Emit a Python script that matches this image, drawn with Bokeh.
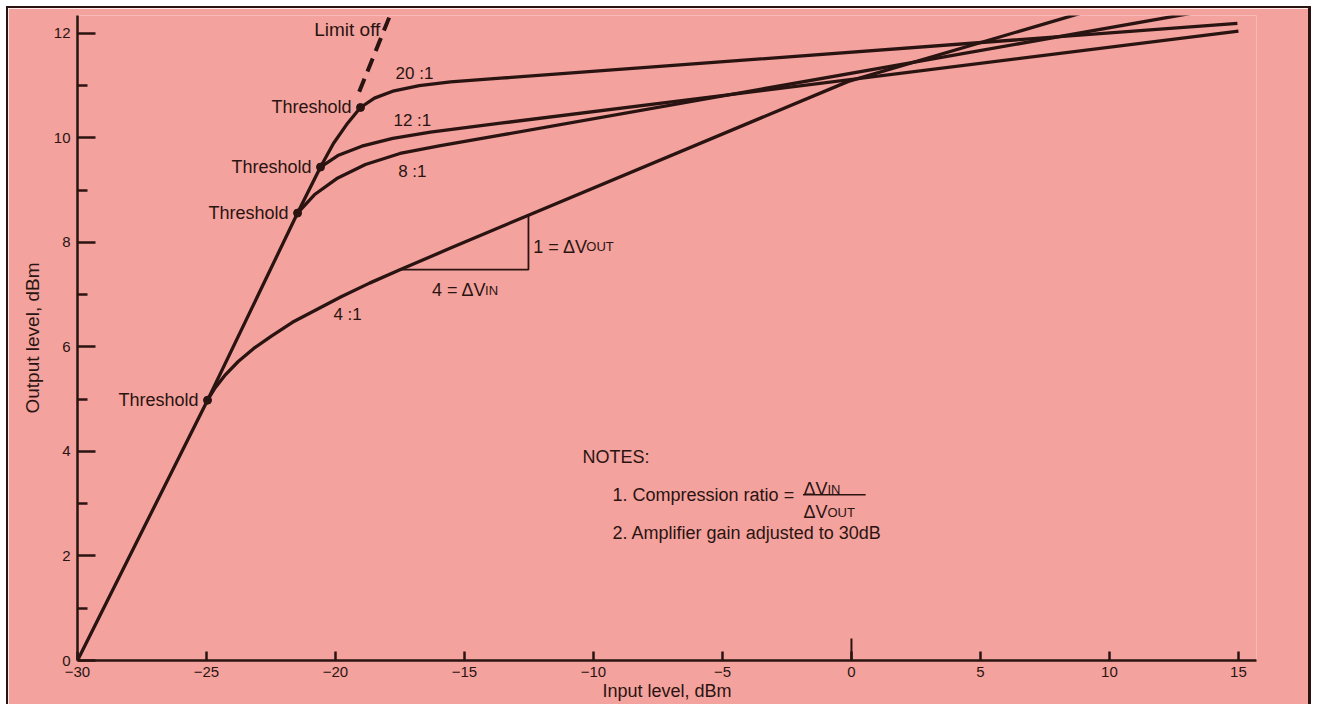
from bokeh.plotting import figure
from bokeh.models import Range1d, FixedTicker, Label, ColumnDataSource
from bokeh.core.properties import value
from bokeh.embed import file_html
from bokeh.resources import INLINE

# ---------------- data ----------------
X_TICKS = [-30, -25, -20, -15, -10, -5, 0, 5, 10, 15]
X_TICK_LABELS = ["\u221230", "\u221225", "\u221220", "\u221215", "\u221210", "\u22125", "0", "5", "10", "15"]
Y_TICKS = [0, 2, 4, 6, 8, 10, 12]
Y_MINOR = [1, 3, 5, 7, 9, 11]

# straight (limit off) line up to the 20:1 threshold
LIMIT_X = [-30, -24.96, -21.47, -20.58, -20.08, -19.53, -19.03]
LIMIT_Y = [0, 4.98, 8.56, 9.44, 9.89, 10.28, 10.58]
# dashed continuation
LIMIT_OFF_X = [-19.08, -17.87]
LIMIT_OFF_Y = [10.88, 12.36]

R20_X = [-19.03, -18.49, -17.73, -16.75, -15.54, -13.60, -4.30, 14.96]
R20_Y = [10.58, 10.76, 10.90, 11.00, 11.07, 11.14, 11.48, 12.19]

R12_X = [-20.58, -19.91, -18.98, -17.78, -16.32, -13.60, 15.0]
R12_Y = [9.44, 9.66, 9.84, 9.99, 10.11, 10.28, 12.04]

R8_X = [-21.47, -20.82, -19.95, -18.84, -17.50, -15.93, -13.60, 13.6]
R8_Y = [8.56, 8.91, 9.22, 9.49, 9.70, 9.85, 10.05, 12.42]

R4_X = [-24.96, -24.66, -24.26, -23.77, -23.17, -22.47, -21.67, -20.78, -19.78, -18.68,
        -17.48, -15.54, -12.52, -0.12, 9.0]
R4_Y = [4.98, 5.22, 5.47, 5.72, 5.97, 6.21, 6.47, 6.70, 6.96, 7.22,
        7.48, 7.89, 8.52, 11.08, 12.40]

TH_X = [-19.03, -20.58, -21.47, -24.96]
TH_Y = [10.58, 9.44, 8.56, 4.98]

TRI_X = [-17.48, -12.52, -12.52]
TRI_Y = [7.48, 7.48, 8.52]

RATIO_LABELS = ["20 :1", "12 :1", "8 :1", "4 :1"]
RATIO_LX = [-16.94, -17.02, -17.02, -19.53]
RATIO_LY = [11.23, 10.33, 9.36, 6.62]

# ---------------- style ----------------
PINK = "#f4a29d"
INK = "#2a1412"
FONT = "Liberation Sans"

p = figure(width=1305, height=698, margin=(6, 0, 0, 6),
           x_range=Range1d(-30, 15.70), y_range=Range1d(0, 12.34),
           output_backend="svg", toolbar_location=None,
           min_border_left=69, min_border_right=57,
           min_border_top=7, min_border_bottom=46,
           background_fill_color=PINK, border_fill_color=PINK,
           outline_line_color=None)
p.styles = {"border-left": "2px solid #2a1412", "border-top": "2px solid #2a1412",
            "border-right": "3px solid #2a1412"}
p.xgrid.visible = False
p.ygrid.visible = False

# axes
xa = p.xaxis[0]
xa.ticker = FixedTicker(ticks=X_TICKS, minor_ticks=[])
xa.major_label_overrides = {t: l for t, l in zip(X_TICKS, X_TICK_LABELS)}
xa.axis_label = "Input level, dBm"
ya = p.yaxis[0]
ya.ticker = FixedTicker(ticks=Y_TICKS, minor_ticks=Y_MINOR)
ya.axis_label = "Output level, dBm"
for ax in (xa, ya):
    ax.axis_line_color = INK
    ax.axis_line_width = 2.5
    ax.major_tick_line_color = INK
    ax.major_tick_line_width = 2.5
    ax.minor_tick_line_color = INK
    ax.minor_tick_line_width = 2.5
    ax.major_tick_out = 0
    ax.minor_tick_out = 0
    ax.major_label_text_font = FONT
    ax.major_label_text_font_size = "15px"
    ax.major_label_text_color = INK
    ax.axis_label_text_font = FONT
    ax.axis_label_text_font_style = "normal"
    ax.axis_label_text_color = INK
xa.axis_label_text_font_size = "18px"
ya.axis_label_text_font_size = "19px"
xa.major_tick_in = 9
xa.major_label_standoff = 6
xa.axis_label_standoff = 1
ya.major_tick_in = 18
ya.minor_tick_in = 10
ya.major_label_standoff = 7
ya.axis_label_standoff = 8

# longer tick at 0 dBm input
p.segment(x0=[0], y0=[0], x1=[0], y1=[0.42], line_color=INK, line_width=2)

# curves
LW = 3.3
p.line(LIMIT_X, LIMIT_Y, line_color=INK, line_width=LW, line_join="round")
p.line(LIMIT_OFF_X, LIMIT_OFF_Y, line_color=INK, line_width=4, line_dash="14 8")
for xs, ys in ((R20_X, R20_Y), (R12_X, R12_Y), (R8_X, R8_Y), (R4_X, R4_Y)):
    p.line(xs, ys, line_color=INK, line_width=LW, line_join="round")
p.line(TRI_X, TRI_Y, line_color=INK, line_width=1.8)
p.scatter(TH_X, TH_Y, size=8, color=INK)

tsrc = ColumnDataSource(dict(x=TH_X, y=TH_Y, t=["Threshold"] * len(TH_X)))
p.text(x="x", y="y", text="t", source=tsrc, x_offset=-9, text_align="right",
       text_baseline="middle", text_font=value(FONT), text_font_size="18px", text_color=INK)

rsrc = ColumnDataSource(dict(x=RATIO_LX, y=RATIO_LY, t=RATIO_LABELS))
p.text(x="x", y="y", text="t", source=rsrc, text_align="center",
       text_baseline="middle", text_font=value(FONT), text_font_size="17px", text_color=INK)


def lab(x, y, text, size="18px", align="left", baseline="middle", xo=0):
    p.add_layout(Label(x=x, y=y, text=text, text_font=FONT, text_font_size=size,
                       text_color=INK, text_align=align, text_baseline=baseline,
                       x_offset=xo))


lab(-18.26, 12.08, "Limit off", size="19px", align="right")
# triangle annotations
lab(-12.33, 7.92, "1 = \u0394V", baseline="alphabetic")
lab(-12.33, 7.92, "OUT", size="13px", baseline="alphabetic", xo=53)
lab(-14.90, 7.08, "4 = \u0394V", baseline="alphabetic", xo=-35)
lab(-14.90, 7.08, "IN", size="13px", baseline="alphabetic", xo=18)

# notes
lab(-10.43, 3.885, "NOTES:")
lab(-9.26, 3.17, "1. Compression ratio =")
lab(-1.86, 3.28, "\u0394V", baseline="alphabetic")
lab(-1.86, 3.28, "IN", size="13px", baseline="alphabetic", xo=24)
p.segment(x0=[-1.88], y0=[3.17], x1=[0.55], y1=[3.17], line_color=INK, line_width=1.5)
lab(-1.86, 2.84, "\u0394V", baseline="alphabetic")
lab(-1.86, 2.84, "OUT", size="13px", baseline="alphabetic", xo=24)
lab(-9.26, 2.43, "2. Amplifier gain adjusted to 30dB")

open("out.html", "w").write(file_html(p, INLINE))
